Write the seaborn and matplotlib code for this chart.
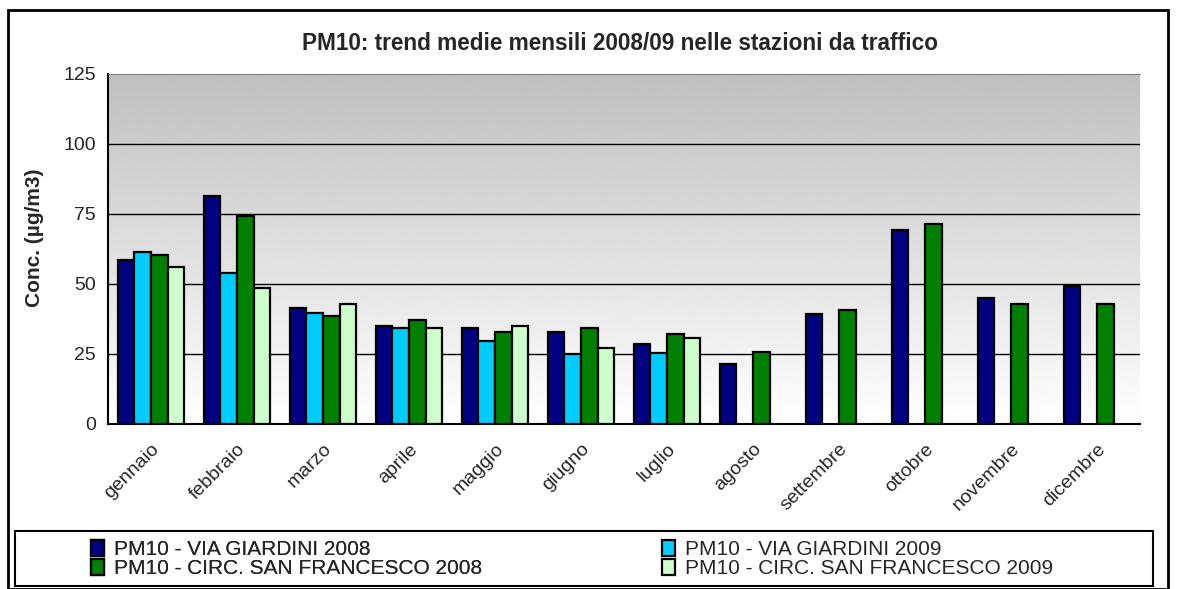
import numpy as np
import pandas as pd
import matplotlib
matplotlib.use('Agg')
import matplotlib.pyplot as plt
import seaborn as sns
from matplotlib.patches import Rectangle

mesi = ['gennaio', 'febbraio', 'marzo', 'aprile', 'maggio', 'giugno', 'luglio',
        'agosto', 'settembre', 'ottobre', 'novembre', 'dicembre']
serie = ['PM10 - VIA GIARDINI 2008', 'PM10 - VIA GIARDINI 2009',
         'PM10 - CIRC. SAN FRANCESCO 2008', 'PM10 - CIRC. SAN FRANCESCO 2009']
giardini_2008 = [58.4, 81.4, 41.4, 34.9, 34.2, 32.8, 28.5, 21.5, 39.2, 69.2, 44.9, 49.2]
giardini_2009 = [61.4, 54.1, 39.8, 34.2, 29.8, 25.1, 25.5, np.nan, np.nan, np.nan, np.nan, np.nan]
sanfrancesco_2008 = [60.5, 74.2, 38.4, 37.0, 32.8, 34.2, 32.1, 25.7, 40.7, 71.4, 42.8, 42.8]
sanfrancesco_2009 = [56.2, 48.5, 42.7, 34.2, 34.9, 27.1, 30.7, np.nan, np.nan, np.nan, np.nan, np.nan]
colori = ['#000080', '#00CCFF', '#008000', '#CCFFCC']

valori = [giardini_2008, giardini_2009, sanfrancesco_2008, sanfrancesco_2009]
df = pd.DataFrame({
    'mese': mesi * 4,
    'serie': np.repeat(serie, 12),
    'conc': np.concatenate(valori),
})

sns.set_style('white')
plt.rcParams['font.family'] = ['Liberation Sans', 'DejaVu Sans']

fig = plt.figure(figsize=(11.86, 5.89), dpi=100)
ax = fig.add_axes([108 / 1186, 1 - 424 / 589, 1032 / 1186, 350 / 589])

# gradient background like Excel plot area (dark grey on top, white at bottom)
grad = np.linspace(0.75, 1.0, 256).reshape(-1, 1)
ax.imshow(grad, cmap='gray', vmin=0, vmax=1, aspect='auto', origin='upper',
          extent=[-0.5, 11.5, 0, 125], zorder=0)

sns.barplot(data=df, x='mese', y='conc', hue='serie', palette=colori, saturation=1,
            edgecolor='black', linewidth=1.6, width=0.77, ax=ax, zorder=3)

ax.set_xlim(-0.5, 11.5)
ax.set_ylim(0, 125)
ax.set_yticks([0, 25, 50, 75, 100, 125])
for v in [25, 50, 75, 100]:
    ax.axhline(v, color='black', lw=1, zorder=1)

ax.set_xticks(np.arange(-0.5, 12.0, 1), minor=True)
ax.tick_params(axis='x', which='major', length=0, pad=12)
ax.tick_params(axis='x', which='minor', length=5, width=1, color='black', direction='out')
ax.tick_params(axis='y', length=5, width=1, color='black', direction='out', labelsize=14)
ax.set_xticklabels(mesi, rotation=45, ha='right', rotation_mode='anchor', fontsize=14)
ax.set_xlabel('')
ax.set_ylabel('Conc. (µg/m3)', fontsize=15, fontweight='bold')
ax.yaxis.set_label_coords(-0.062, 0.531)

for side in ['left', 'bottom']:
    ax.spines[side].set_color('black')
    ax.spines[side].set_linewidth(1.5)
ax.spines['top'].set_color('#808080')
ax.spines['right'].set_visible(False)

fig.text(620 / 1186, 1 - 43 / 589, 'PM10: trend medie mensili 2008/09 nelle stazioni da traffico',
         ha='center', va='center', fontsize=16.3, fontweight='bold')

handles, labels = ax.get_legend_handles_labels()
ax.get_legend().remove()
leg_kw = dict(loc='center left', fontsize=15, frameon=False, handlelength=0.6,
              handleheight=0.8, handletextpad=0.5, labelspacing=0.0,
              borderaxespad=0, borderpad=0)
leg1 = fig.legend([handles[0], handles[2]], [labels[0], labels[2]],
                  bbox_to_anchor=(91 / 1186, 1 - 559 / 589), **leg_kw)
fig.add_artist(leg1)
fig.legend([handles[1], handles[3]], [labels[1], labels[3]],
           bbox_to_anchor=(662 / 1186, 1 - 559 / 589), **leg_kw)

fig.patches.append(Rectangle((15 / 1186, 3 / 589), 1138 / 1186, 55 / 589,
                             transform=fig.transFigure, fill=False,
                             edgecolor='black', lw=1.5))
fig.patches.append(Rectangle((8 / 1186, 0), 1160 / 1186, 1 - 10 / 589,
                             transform=fig.transFigure, fill=False,
                             edgecolor='black', lw=2))

fig.savefig('out.png', dpi=100)
